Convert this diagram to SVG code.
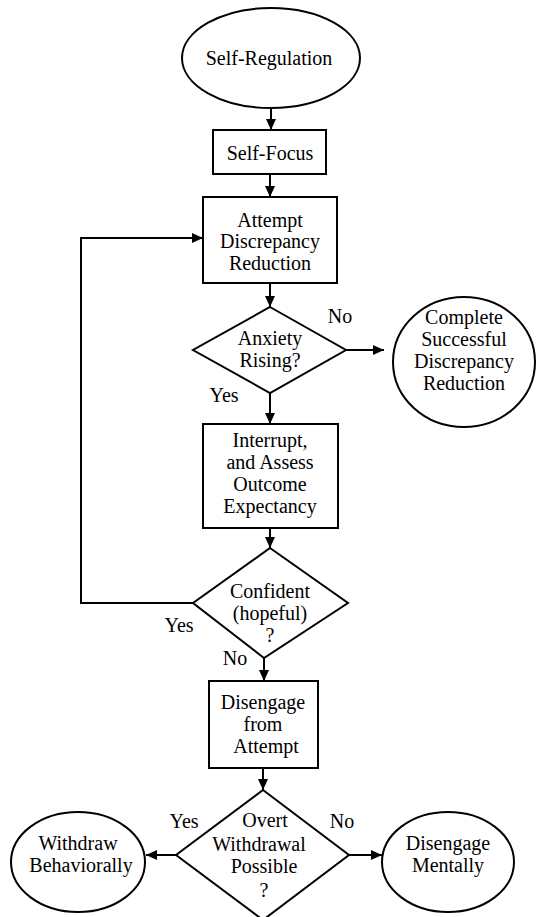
<svg xmlns="http://www.w3.org/2000/svg" width="536" height="917" viewBox="0 0 536 917" font-family="Liberation Serif, DejaVu Serif, Times New Roman, serif">
<style>
.s{fill:#fff;stroke:#000;stroke-width:2}
.t{font-size:20px;fill:#000;text-anchor:middle}
.c{fill:none;stroke:#000;stroke-width:2}
</style>
<defs>
<marker id="ah" markerUnits="userSpaceOnUse" markerWidth="12" markerHeight="10" refX="11" refY="5" orient="auto">
<path d="M0,0 L11,5 L0,10 z" fill="#000"/>
</marker>
</defs>
<rect width="536" height="917" fill="#fff"/>
<g id="connectors">
<line class="c" x1="271" y1="108" x2="271" y2="130" marker-end="url(#ah)"/>
<line class="c" x1="270" y1="174" x2="270" y2="197" marker-end="url(#ah)"/>
<line class="c" x1="270" y1="283" x2="270" y2="307" marker-end="url(#ah)"/>
<line class="c" x1="346" y1="350" x2="384" y2="350" marker-end="url(#ah)"/>
<line class="c" x1="270" y1="393" x2="270" y2="424" marker-end="url(#ah)"/>
<line class="c" x1="270" y1="528" x2="270" y2="548" marker-end="url(#ah)"/>
<polyline class="c" points="193,603 81,603 81,238 203,238" marker-end="url(#ah)"/>
<line class="c" x1="264" y1="658" x2="264" y2="681" marker-end="url(#ah)"/>
<line class="c" x1="263" y1="768" x2="263" y2="790" marker-end="url(#ah)"/>
<line class="c" x1="176" y1="855" x2="146" y2="855" marker-end="url(#ah)"/>
<line class="c" x1="349" y1="855" x2="382" y2="855" marker-end="url(#ah)"/>
<text class="t" x="340" y="323">No</text>
<text class="t" x="224" y="402">Yes</text>
<text class="t" x="179" y="632">Yes</text>
<text class="t" x="235" y="665">No</text>
<text class="t" x="184" y="828">Yes</text>
<text class="t" x="342" y="828">No</text>
</g>
<g id="self-regulation">
<ellipse class="s" cx="271" cy="58" rx="89" ry="50"/>
<text class="t" x="269" y="65">Self-Regulation</text>
</g>
<g id="self-focus">
<rect class="s" x="213" y="130" width="113" height="44"/>
<text class="t" x="270" y="160">Self-Focus</text>
</g>
<g id="attempt">
<rect class="s" x="203" y="197" width="134" height="86"/>
<text class="t" x="270" y="227">Attempt</text>
<text class="t" x="270" y="248">Discrepancy</text>
<text class="t" x="270" y="270">Reduction</text>
</g>
<g id="anxiety">
<polygon class="s" points="270,307 346,350 270,393 193,350"/>
<text class="t" x="270" y="345">Anxiety</text>
<text class="t" x="270" y="367">Rising?</text>
</g>
<g id="complete">
<ellipse class="s" cx="464" cy="362" rx="71" ry="65"/>
<text class="t" x="464" y="324">Complete</text>
<text class="t" x="464" y="346">Successful</text>
<text class="t" x="464" y="368">Discrepancy</text>
<text class="t" x="464" y="390">Reduction</text>
</g>
<g id="interrupt">
<rect class="s" x="203" y="424" width="135" height="104"/>
<text class="t" x="270" y="447">Interrupt,</text>
<text class="t" x="270" y="469">and Assess</text>
<text class="t" x="270" y="491">Outcome</text>
<text class="t" x="270" y="513">Expectancy</text>
</g>
<g id="confident">
<polygon class="s" points="270,548 348,603 264,658 193,603"/>
<text class="t" x="270" y="598">Confident</text>
<text class="t" x="270" y="620">(hopeful)</text>
<text class="t" x="270" y="642">?</text>
</g>
<g id="disengage-attempt">
<rect class="s" x="209" y="681" width="109" height="87"/>
<text class="t" x="263" y="709">Disengage</text>
<text class="t" x="263" y="731">from</text>
<text class="t" x="266" y="753">Attempt</text>
</g>
<g id="overt">
<polygon class="s" points="263,790 349,855 263,920 176,855"/>
<text class="t" x="265" y="827">Overt</text>
<text class="t" x="259" y="851">Withdrawal</text>
<text class="t" x="264" y="873">Possible</text>
<text class="t" x="264" y="897">?</text>
</g>
<g id="withdraw">
<ellipse class="s" cx="78" cy="862" rx="67" ry="50"/>
<text class="t" x="78" y="850">Withdraw</text>
<text class="t" x="81" y="872">Behaviorally</text>
</g>
<g id="disengage-mentally">
<ellipse class="s" cx="448" cy="862" rx="66" ry="50"/>
<text class="t" x="448" y="850">Disengage</text>
<text class="t" x="448" y="872">Mentally</text>
</g>
</svg>
